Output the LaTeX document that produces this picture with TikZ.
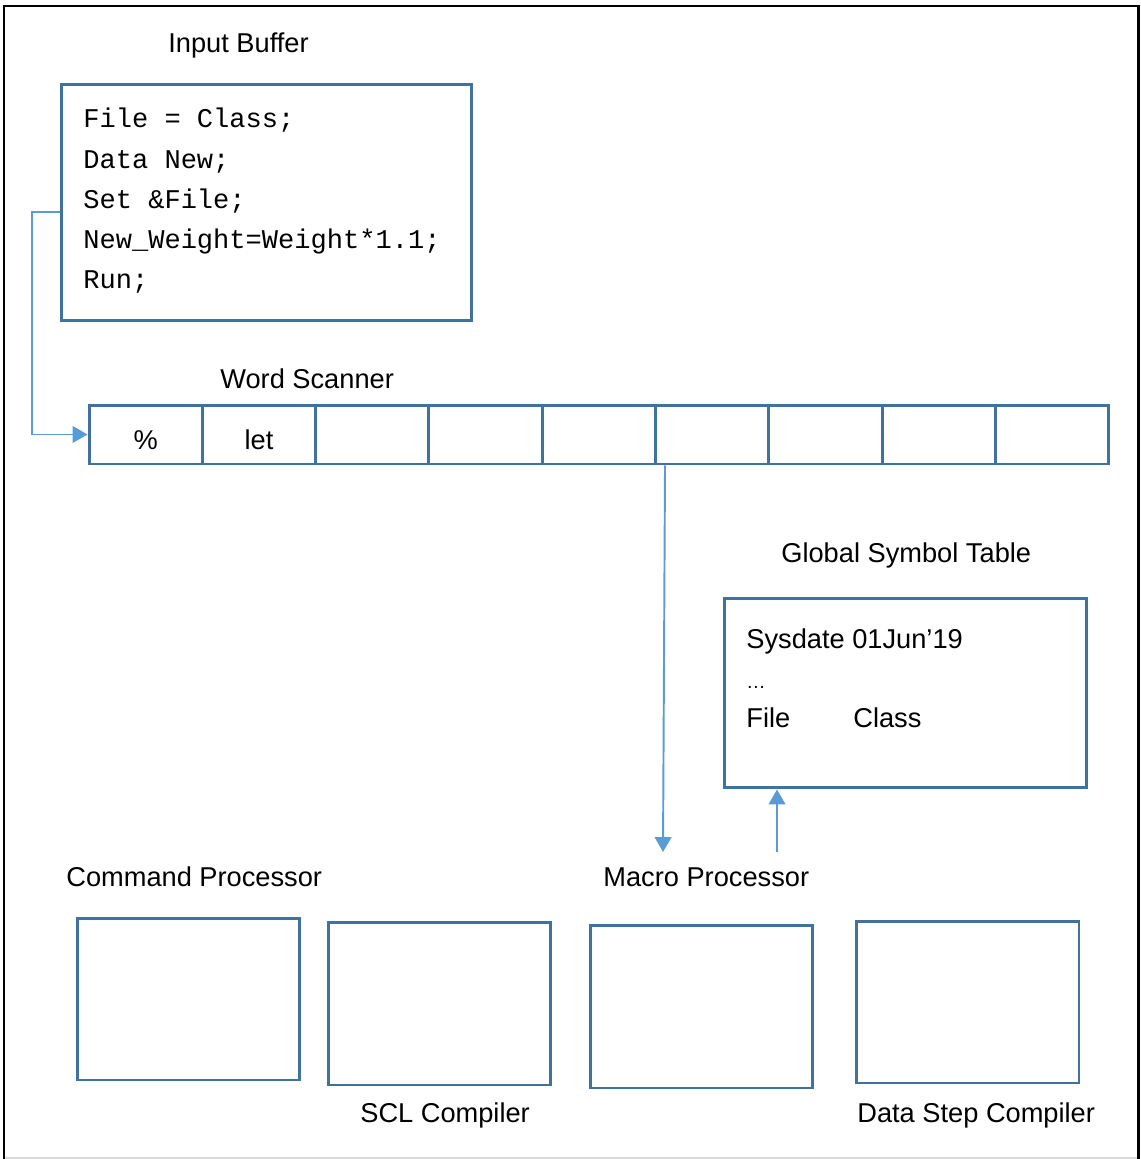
\documentclass[tikz,border=0pt]{standalone}
\usepackage{fontspec}
\setmainfont{Liberation Sans}
\setmonofont{Liberation Mono}
\usepackage{xcolor}
\usetikzlibrary{arrows.meta, positioning, calc}
\definecolor{boxblue}{RGB}{65,113,156}
\definecolor{linkblue}{RGB}{91,155,213}

\begin{document}
\begin{tikzpicture}[x=0.02cm, y=-0.02cm,
  box/.style={draw=boxblue, line width=1.7pt, inner sep=0pt, font=\fontsize{15.5}{18}\selectfont},
  lbl/.style={anchor=base west, inner sep=0pt, font=\fontsize{15.5}{18}\selectfont},
  code/.style={anchor=base west, inner sep=0pt, font=\ttfamily\fontsize{15.4}{18}\selectfont},
  link/.style={draw=linkblue, line width=1.1pt, -{Triangle[length=8.5pt, width=9.5pt]}}]
\useasboundingbox (0,0) rectangle (1141,1159);
\draw[black!15, line width=1pt] (4,1158) -- (1138,1158);
\draw[black, line width=1.7pt] (4,1159) -- (4,6) -- (1138,6) -- (1138,1159);

\node[lbl] (buftitle) at (168,53) {Input Buffer};
\node[box, minimum width=8.22cm, minimum height=4.74cm] (buffer) at (266.5,202.5) {};
\foreach \ln [count=\i from 0] in {{File = Class;},{Data New;},{Set \&File;},{New\_Weight=Weight*1.1;},{Run;}}
  \node[code] (line\i) at (83,{128+40*\i}) {\ln};

\node[lbl] (scantitle) at (220,388) {Word Scanner};
\foreach \txt [count=\i from 1] in {{\%},{let},{},{},{},{},{},{},{}}
  \node[box, minimum width=2.266cm, minimum height=1.18cm, text height=17.5pt, text depth=0pt] (c\i) at ({89+113.3*(\i-0.5)},434.5) {\txt};

\node[lbl] (gsttitle) at (781,562) {Global Symbol Table};
\node[box, minimum width=7.26cm, minimum height=3.8cm] (gst) at (905.5,693) {};
\node[lbl] (sysdate) at (746,648) {Sysdate 01Jun’19};
\node[lbl, font=\fontsize{11}{12}\selectfont] (dots) at (746,688) {\ldots};
\node[lbl] (filekey) at (746,727) {File};
\node[lbl] (fileval) at (853,727) {Class};

\foreach \nm/\cx/\cy/\h in {cmd/188.5/999/3.24, scl/439.5/1003.5/3.26, mac/701.5/1006.5/3.26, dsc/967.5/1002/3.24}
  \node[box, minimum width=4.46cm, minimum height=\h cm] (\nm) at (\cx,\cy) {};
\node[lbl] (cmdlbl) at (66,886) {Command Processor};
\node[lbl] (maclbl) at (603,886) {Macro Processor};
\node[lbl] (scllbl) at (360,1122) {SCL Compiler};
\node[lbl] (dsclbl) at (857,1122) {Data Step Compiler};

\coordinate (macin) at (663,852);
\coordinate (gstout) at (777,852);
\draw[link] ([yshift=-0.19cm]buffer.west) -- ++(-28,0) |- (c1.west);
\draw[link] ([xshift=0.22cm]c6.south west) -- (macin);
\draw[link] (gstout) -- (gstout |- gst.south);
\end{tikzpicture}
\end{document}
